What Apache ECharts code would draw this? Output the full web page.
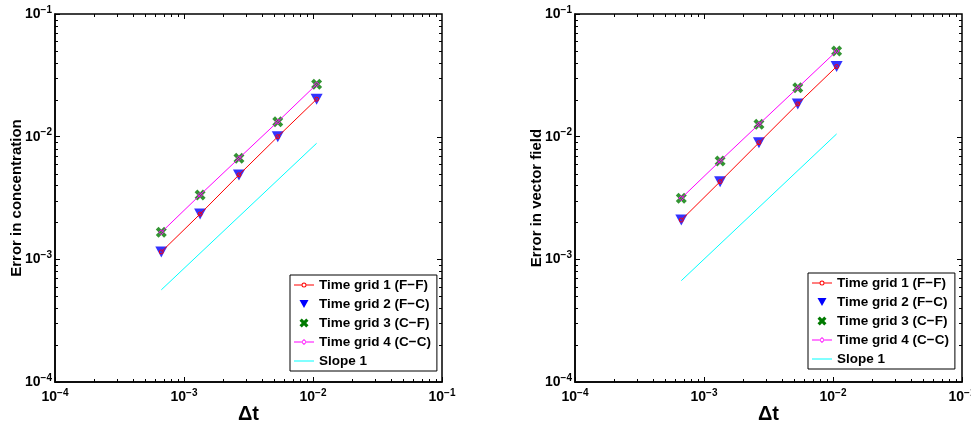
<!DOCTYPE html>
<html>
<head>
<meta charset="utf-8">
<script src="https://cdn.jsdelivr.net/npm/echarts@6/dist/echarts.min.js"></script>
<style>html,body{margin:0;padding:0;background:#fff}#c{width:971px;height:427px}</style>
</head>
<body>
<div id="c"></div>
<script>
// ---- data ----
const dt = [0.000667, 0.001333, 0.002667, 0.005333, 0.010667];
const concGrid1 = [0.00115, 0.00234, 0.00488, 0.0100, 0.0202];
const concGrid2 = [0.00115, 0.00234, 0.00488, 0.0100, 0.0202];
const concGrid3 = [0.00166, 0.00335, 0.00667, 0.01325, 0.0267];
const concGrid4 = [0.00166, 0.00335, 0.00667, 0.01325, 0.0267];
const slopeX = [0.000667, 0.010667];
const concSlope = [0.000564, 0.00883];
const vecGrid1 = [0.00209, 0.0043, 0.00893, 0.0185, 0.0373];
const vecGrid2 = [0.00209, 0.0043, 0.00893, 0.0185, 0.0373];
const vecGrid3 = [0.00315, 0.00634, 0.01262, 0.02506, 0.0499];
const vecGrid4 = [0.00315, 0.00634, 0.01262, 0.02506, 0.0499];
const vecSlope = [0.00067, 0.01052];
const seriesNames = ['Time grid 1 (F\u2212F)', 'Time grid 2 (F\u2212C)', 'Time grid 3 (C\u2212F)', 'Time grid 4 (C\u2212C)', 'Slope 1'];
const yTitles = ['Error in concentration', 'Error in vector field'];
const xTitle = '\u0394t';
const axisMin = 1e-4, axisMax = 1e-1;
const decades = [1e-4, 1e-3, 1e-2];
const minorMult = [2, 3, 4, 5, 6, 7, 8, 9];
const majorInner = [1e-3, 1e-2];

const FONT = '"Liberation Sans", Arial, Helvetica, sans-serif';
const pair = (xs, ys) => xs.map((x, i) => [x, ys[i]]);
const minorVals = [];
decades.forEach(d => minorMult.forEach(m => minorVals.push(d * m)));

const grids = [
  { left: 55, top: 14, width: 387, height: 368 },
  { left: 575, top: 14, width: 387, height: 368 }
];

function fmt(v) {
  const e = Math.round(Math.log10(v));
  return '{b|10}{s|\u2212' + Math.abs(e) + '}';
}
const rich = {
  b: { fontFamily: FONT, fontWeight: 'bold', fontSize: 14, color: '#000' },
  s: { fontFamily: FONT, fontWeight: 'bold', fontSize: 10, color: '#000', padding: [0, 0, 8, 0] }
};

const xAxes = [], yAxes = [], series = [];
const Xpath = 'path://M0,2.5 L2.5,0 L5,2.5 L7.5,0 L10,2.5 L7.5,5 L10,7.5 L7.5,10 L5,7.5 L2.5,10 L0,7.5 L2.5,5 Z';
const triPath = 'path://M0,0 L10,0 L5,9 Z';

const datasets = [
  [concGrid1, concGrid2, concGrid3, concGrid4, concSlope],
  [vecGrid1, vecGrid2, vecGrid3, vecGrid4, vecSlope]
];

grids.forEach((g, gi) => {
  xAxes.push({
    type: 'log', logBase: 10, min: axisMin, max: axisMax, gridIndex: gi,
    name: xTitle, nameLocation: 'middle', nameGap: 22, nameMoveOverlap: false,
    nameTextStyle: { fontFamily: FONT, fontWeight: 'bold', fontSize: 20, color: '#000' },
    axisLine: { lineStyle: { color: '#000', width: 1.5 } },
    axisTick: { inside: true, length: 5, lineStyle: { color: '#000', width: 1 } },
    splitLine: { show: false },
    axisLabel: { formatter: fmt, rich: rich, margin: 6 }
  });
  yAxes.push({
    type: 'log', logBase: 10, min: axisMin, max: axisMax, gridIndex: gi,
    name: yTitles[gi], nameLocation: 'middle', nameGap: 31, nameMoveOverlap: false,
    nameTextStyle: { fontFamily: FONT, fontWeight: 'bold', fontSize: 15, color: '#000' },
    axisLine: { lineStyle: { color: '#000', width: 1.5 } },
    axisTick: { inside: true, length: 5, lineStyle: { color: '#000', width: 1 } },
    splitLine: { show: false },
    axisLabel: { formatter: fmt, rich: rich, margin: 3 }
  });
  const d = datasets[gi];
  const tickData = [];
  minorVals.forEach(v => { tickData.push([v, axisMin, 0, 3]); tickData.push([axisMin, v, 1, 3]); });
  majorInner.forEach(v => { tickData.push([v, axisMin, 2, 5]); tickData.push([axisMin, v, 3, 5]); });
  series.push({
    type: 'custom', xAxisIndex: gi, yAxisIndex: gi, silent: true, z: 1,
    data: tickData,
    renderItem: function (params, api) {
      const cs = params.coordSys;
      const kind = api.value(2), len = api.value(3);
      const st = { stroke: '#000', lineWidth: 1 };
      const children = [];
      if (kind === 0 || kind === 2) {
        const x = Math.round(api.coord([api.value(0), axisMin])[0]) + 0.5;
        if (kind === 0) children.push({ type: 'line', shape: { x1: x, y1: cs.y + cs.height, x2: x, y2: cs.y + cs.height - len }, style: st });
        children.push({ type: 'line', shape: { x1: x, y1: cs.y, x2: x, y2: cs.y + len }, style: st });
      } else {
        const y = Math.round(api.coord([axisMin, api.value(1)])[1]) + 0.5;
        if (kind === 1) children.push({ type: 'line', shape: { x1: cs.x, y1: y, x2: cs.x + len, y2: y }, style: st });
        children.push({ type: 'line', shape: { x1: cs.x + cs.width, y1: y, x2: cs.x + cs.width - len, y2: y }, style: st });
      }
      return { type: 'group', children: children };
    }
  });
  series.push({
    name: seriesNames[1], type: 'scatter', xAxisIndex: gi, yAxisIndex: gi, data: pair(dt, d[1]),
    symbol: triPath, symbolSize: [12, 11], itemStyle: { color: '#0000ff' },
    emphasis: { disabled: true }, animation: false, z: 3
  });
  series.push({
    name: seriesNames[0], type: 'line', xAxisIndex: gi, yAxisIndex: gi, data: pair(dt, d[0]),
    symbol: 'circle', symbolSize: 4, showSymbol: true,
    lineStyle: { color: '#ff0000', width: 1 },
    itemStyle: { color: 'rgba(0,0,0,0)', borderColor: '#ff0000', borderWidth: 1 },
    emphasis: { disabled: true }, animation: false, z: 4
  });
  series.push({
    name: seriesNames[2], type: 'scatter', xAxisIndex: gi, yAxisIndex: gi, data: pair(dt, d[2]),
    symbol: Xpath, symbolSize: 11, itemStyle: { color: '#007a00' },
    emphasis: { disabled: true }, animation: false, z: 5
  });
  series.push({
    name: seriesNames[3], type: 'line', xAxisIndex: gi, yAxisIndex: gi, data: pair(dt, d[3]),
    symbol: 'diamond', symbolSize: 5, showSymbol: true,
    lineStyle: { color: '#ff00ff', width: 1 },
    itemStyle: { color: 'rgba(0,0,0,0)', borderColor: '#ff00ff', borderWidth: 1 },
    emphasis: { disabled: true }, animation: false, z: 6
  });
  series.push({
    name: seriesNames[4], type: 'line', xAxisIndex: gi, yAxisIndex: gi, data: pair(slopeX, d[4]),
    symbol: 'none', lineStyle: { color: '#00ffff', width: 1 }, itemStyle: { color: '#00ffff' },
    emphasis: { disabled: true }, animation: false, z: 3
  });
});

// legend icons in a 20x12 box (bounding points at 0,0 and 20,12)
const B0 = 'M0,0 ', B1 = ' M20,12';
const bar = 'M0,5.5 L20,5.5 L20,6.5 L0,6.5 Z';
const ringC = 'M12.5,6 A2.5,2.5 0 1 0 7.5,6 A2.5,2.5 0 1 0 12.5,6 Z M11.5,6 A1.5,1.5 0 1 1 8.5,6 A1.5,1.5 0 1 1 11.5,6 Z';
const ringD = 'M10,3 L13,6 L10,9 L7,6 Z M10,4.2 L8.2,6 L10,7.8 L11.8,6 Z';
const barSplit = 'M0,5.5 L7.5,5.5 L7.5,6.5 L0,6.5 Z M12.5,5.5 L20,5.5 L20,6.5 L12.5,6.5 Z';
const barSplitD = 'M0,5.5 L7,5.5 L7,6.5 L0,6.5 Z M13,5.5 L20,5.5 L20,6.5 L13,6.5 Z';
const legendIcons = [
  'path://' + B0 + barSplit + ' ' + ringC + B1,
  'path://' + B0 + 'M5.5,2 L14.5,2 L10,10 Z' + B1,
  'path://' + B0 + 'M5.5,3.75 L7.75,1.5 L10,3.75 L12.25,1.5 L14.5,3.75 L12.25,6 L14.5,8.25 L12.25,10.5 L10,8.25 L7.75,10.5 L5.5,8.25 L7.75,6 Z' + B1,
  'path://' + B0 + barSplitD + ' ' + ringD + B1,
  'path://' + B0 + bar + B1
];
const legendColors = ['#ff0000', '#0000ff', '#007a00', '#ff00ff', '#00ffff'];
const legendData = seriesNames.map((n, i) => ({
  name: n, icon: legendIcons[i],
  itemStyle: { color: legendColors[i], borderWidth: 0, opacity: 1 }
}));

const legendPos = [{ left: 290, top: 275 }, { left: 808, top: 273 }];
const legends = legendPos.map(p => ({
  left: p.left, top: p.top, orient: 'vertical', data: legendData,
  backgroundColor: '#fff', borderColor: '#000', borderWidth: 1,
  padding: [3, 6, 3, 4], itemGap: 5, itemWidth: 20, itemHeight: 12,
  textStyle: { fontFamily: FONT, fontWeight: 'bold', fontSize: 13.5, color: '#000' },
  selectedMode: false
}));

const chart = echarts.init(document.getElementById('c'), null, { renderer: 'canvas' });
chart.setOption({
  animation: false,
  backgroundColor: '#fff',
  grid: grids.map(g => Object.assign({ show: true, borderColor: '#000', borderWidth: 1.5, backgroundColor: 'transparent', containLabel: false, outerBoundsMode: 'none' }, g)),
  xAxis: xAxes,
  yAxis: yAxes,
  legend: legends,
  series: series
});
</script>
</body>
</html>
